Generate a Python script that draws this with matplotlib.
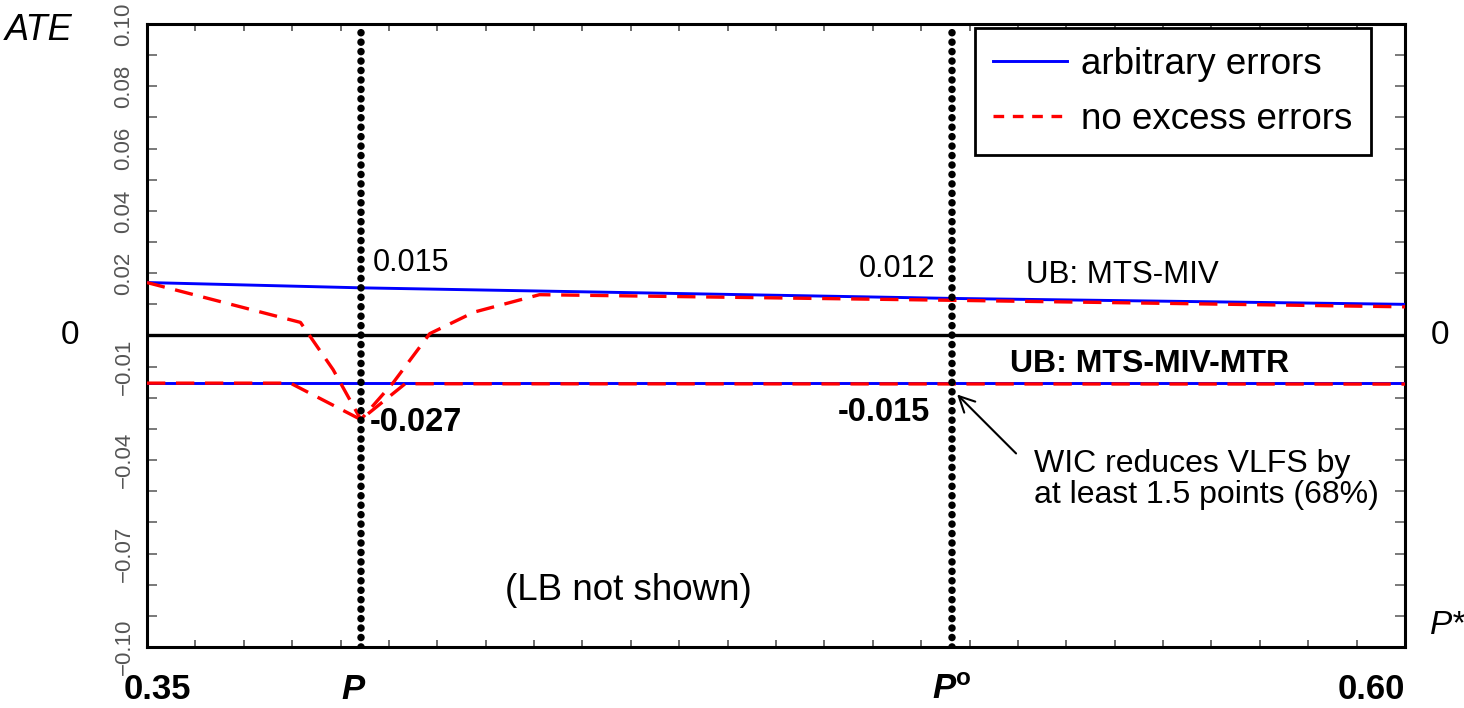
import numpy as np
import matplotlib
matplotlib.use("Agg")
import matplotlib.pyplot as plt
from matplotlib.lines import Line2D
from matplotlib.transforms import blended_transform_factory

plt.rcParams['font.family'] = ['Liberation Sans', 'DejaVu Sans']
plt.rcParams['mathtext.fontset'] = 'custom'
plt.rcParams['mathtext.rm'] = 'Liberation Sans'
plt.rcParams['mathtext.bf'] = 'Liberation Sans:bold'
plt.rcParams['mathtext.it'] = 'Liberation Sans:italic'

# ---------------- data ----------------
P_STAR = 0.3925     # "P"
P_O = 0.51          # "P^o"

ub_miv_arb_x = [0.35, 0.3925, 0.51, 0.60]
ub_miv_arb_y = [0.0170, 0.0153, 0.0119, 0.0100]

ub_mtr_arb_x = [0.35, 0.60]
ub_mtr_arb_y = [-0.0151, -0.0151]

ub_miv_nee_x = [0.35, 0.3805, 0.3870, 0.3925, 0.3990, 0.4062, 0.4150, 0.4280, 0.51, 0.60]
ub_miv_nee_y = [0.0170, 0.0042, -0.0110, -0.0270, -0.0150, 0.0006, 0.0075, 0.0131, 0.0113, 0.0092]

ub_mtr_nee_x = [0.35, 0.3785, 0.3925, 0.4013, 0.60]
ub_mtr_nee_y = [-0.0153, -0.0153, -0.0270, -0.0155, -0.0156]

x_label_pos = [0.35, P_STAR, P_O, 0.60]
x_label_text = ['0.35', 'P', 'P$^{\\mathbf{o}}$', '0.60']

y_tick_pos = [0.10, 0.08, 0.06, 0.04, 0.02, -0.01, -0.04, -0.07, -0.10]
y_tick_labels = ['0.10', '0.08', '0.06', '0.04', '0.02', '\u22120.01', '\u22120.04', '\u22120.07', '\u22120.10']

# ---------------- figure ----------------
fig = plt.figure(figsize=(14.64, 7.08), dpi=100)
ax = fig.add_axes([0.1004, 0.0862, 0.8593, 0.8799])
ax.set_xlim(0.35, 0.60)
ax.set_ylim(-0.10, 0.10)

for sp in ax.spines.values():
    sp.set_linewidth(2.2)
    sp.set_color('black')

# zero line
ax.axhline(0, color='black', lw=2.4, zorder=2)

# vertical dotted lines
for xv in (P_STAR, P_O):
    ln = ax.axvline(xv, color='black', lw=5.4, linestyle=(0, (0.01, 1.25)), zorder=5)
    ln.set_dash_capstyle('round')

# series
ax.plot(ub_miv_arb_x, ub_miv_arb_y, color='#0000FF', lw=2.1, zorder=3)
ax.plot(ub_mtr_arb_x, ub_mtr_arb_y, color='#0000FF', lw=2.1, zorder=3)
ax.plot(ub_miv_nee_x, ub_miv_nee_y, color='#FF0000', lw=2.4, zorder=4,
        dashes=(5.5, 3.2))
ax.plot(ub_mtr_nee_x, ub_mtr_nee_y, color='#FF0000', lw=2.4, zorder=4,
        dashes=(5.5, 3.2))

# ticks
ax.set_xticks([])
ax.set_xticks(np.linspace(0.35, 0.60, 27), minor=True)
ax.set_yticks(y_tick_pos)
ax.set_yticklabels(y_tick_labels)
ax.set_yticks(np.round(np.arange(-0.10, 0.1001, 0.01), 3), minor=True)

ax.tick_params(axis='x', which='minor', direction='in', length=5, width=1.1,
               color='#444444', top=True, bottom=True, labelbottom=False)
ax.tick_params(axis='y', which='both', direction='in', length=7.5, width=1.1,
               color='#555555', left=True, right=True, labelright=False)
ax.tick_params(axis='y', which='major', pad=9, labelsize=16, labelcolor='#555555')

for lbl in ax.get_yticklabels():
    lbl.set_rotation(90)
    lbl.set_va('center')

# x labels (bold, below axis)
trx = blended_transform_factory(ax.transData, ax.transAxes)
x_ha = ['center', 'center', 'center', 'right']
x_off = [0.0020, -0.0015, 0.0, 0.0]
for xp, txt, ha, off in zip(x_label_pos, x_label_text, x_ha, x_off):
    ax.text(xp + off, -0.068, txt, transform=trx, fontsize=25, fontweight='bold',
            style='italic' if txt.startswith('P') else 'normal',
            ha=ha, va='center', clip_on=False)

# legend
handles = [Line2D([], [], color='#0000FF', lw=2.1),
           Line2D([], [], color='#FF0000', lw=2.4, dashes=(3.2, 2.6))]
leg = ax.legend(handles, ['arbitrary errors', 'no excess errors'],
                loc='upper left', bbox_to_anchor=(0.658, 0.993),
                borderaxespad=0.0,
                fontsize=26.5, handlelength=2.0, handletextpad=0.4,
                labelspacing=0.55, borderpad=0.5, fancybox=False,
                framealpha=1, edgecolor='black')
leg.get_frame().set_linewidth(2.0)

# annotations
ax.text(0.3949, 0.0234, '0.015', fontsize=22, va='center', ha='left')
ax.text(0.5066, 0.0215, '0.012', fontsize=22, va='center', ha='right')
ax.text(0.5247, 0.0193, 'UB: MTS-MIV', fontsize=22.5, va='center', ha='left')
ax.text(0.5215, -0.0093, 'UB: MTS-MIV-MTR', fontsize=23, fontweight='bold',
        va='center', ha='left')
ax.text(0.3943, -0.0279, '-0.027', fontsize=23.5, fontweight='bold',
        va='center', ha='left')
ax.text(0.5056, -0.0247, '-0.015', fontsize=23.5, fontweight='bold',
        va='center', ha='right')
ax.annotate('', xy=(0.5106, -0.0183), xytext=(0.5231, -0.0385),
            arrowprops=dict(arrowstyle='->', color='black', lw=1.5,
                            mutation_scale=28))
ax.text(0.5263, -0.0365, 'WIC reduces VLFS by\nat least 1.5 points (68%)',
        fontsize=23, va='top', ha='left', linespacing=1.05)
ax.text(0.4211, -0.0819, '(LB not shown)', fontsize=26.5, va='center', ha='left')

tr = blended_transform_factory(fig.transFigure, ax.transData)
fig.text(0.0478, 0.0, '0', transform=tr, fontsize=24, va='center', ha='center')
fig.text(0.9836, 0.0, '0', transform=tr, fontsize=24, va='center', ha='center')
fig.text(0.0034, 0.9576, 'ATE', fontsize=26, style='italic', va='center', ha='left')
fig.text(0.977, 0.117, 'P*', fontsize=24, style='italic', va='center', ha='left')

fig.savefig('out.png', dpi=100)
